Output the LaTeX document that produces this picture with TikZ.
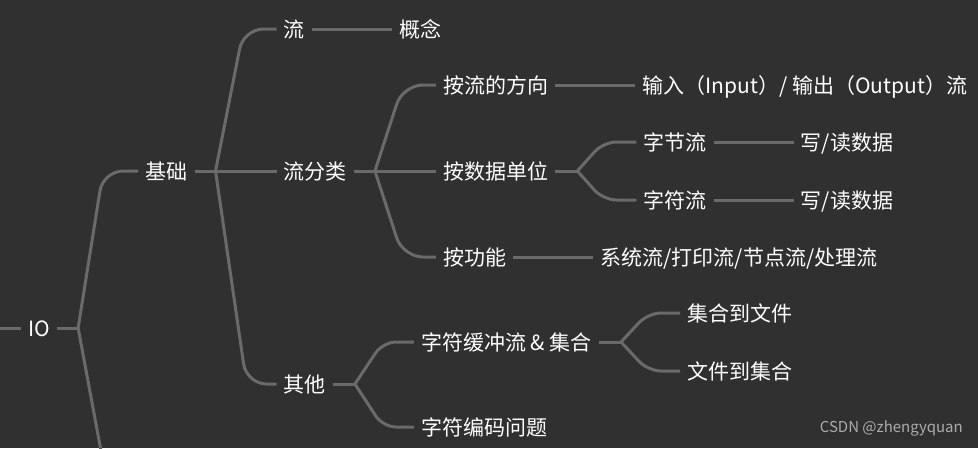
\documentclass[tikz,border=0pt]{standalone}
\usepackage{fontspec}
\setmainfont{Noto Sans CJK SC}
\usetikzlibrary{positioning, calc}
\definecolor{bgdark}{RGB}{48,48,48}
\definecolor{linkgray}{RGB}{106,106,106}
\definecolor{markgray}{RGB}{172,172,172}

\begin{document}
\begin{tikzpicture}[x=1pt, y=-1pt,
    topic/.style={anchor=west, text=white, font=\fontsize{21}{25}\selectfont,
                  inner xsep=7pt, inner ysep=0pt, text height=18.5pt, text depth=2.5pt},
    stub/.style={draw=linkgray, line width=3pt},
    link/.style={stub, rounded corners=20pt},
    twig/.style={stub, rounded corners=13pt},
    watermark/.style={anchor=east, text=markgray, font=\fontsize{15}{18}\selectfont, inner sep=0pt},
]
    \fill[bgdark] (0,0) rectangle (978,448);
    \clip (0,0) rectangle (978,448);

    % root
    \coordinate (in) at (0,328);
    \node[topic] (io) at (21,328) {IO};
    \coordinate (b0) at ($(io.east)+(21,0)$);
    \coordinate (off) at ($(b0)+(32,172)$);

    % basics
    \node[topic] (jc) at ($(b0)+(60,-157)$) {基础};
    \coordinate (b1) at ($(jc.east)+(21,0)$);
    \node[topic] (liu) at ($(b1)+(61,-142)$) {流};
    \node[topic, right=80pt of liu] (gn) {概念};
    \node[topic] (fl) at ($(b1)+(61,0)$) {流分类};
    \node[topic] (qt) at ($(b1)+(61,213)$) {其他};

    % stream classes
    \coordinate (b2) at ($(fl.east)+(21,0)$);
    \node[topic] (fx) at ($(b2)+(61,-86)$) {按流的方向};
    \node[topic, right=80pt of fx] (io2) {输入（Input）/ 输出（Output）流};
    \node[topic] (dw) at ($(b2)+(61,0)$) {按数据单位};
    \node[topic] (gnn) at ($(b2)+(61,86)$) {按功能};
    \node[topic, right=80pt of gnn] (xt) {系统流/打印流/节点流/处理流};

    \coordinate (b3) at ($(dw.east)+(22,0)$);
    \node[topic] (zj) at ($(b3)+(59,-29)$) {字节流};
    \node[topic, right=80pt of zj] (zjrw) {写/读数据};
    \node[topic] (zf) at ($(b3)+(59,29)$) {字符流};
    \node[topic, right=80pt of zf] (zfrw) {写/读数据};

    % others
    \coordinate (b4) at ($(qt.east)+(22,0)$);
    \node[topic] (hc) at ($(b4)+(59,-42)$) {字符缓冲流 \& 集合};
    \node[topic] (bm) at ($(b4)+(59,43)$) {字符编码问题};
    \coordinate (b5) at ($(hc.east)+(22,0)$);
    \node[topic] (jw) at ($(b5)+(59,-29)$) {集合到文件};
    \node[topic] (wj) at ($(b5)+(59,29)$) {文件到集合};

    \node[watermark] (wm) at (963,428) {CSDN @zhengyquan};

    % connectors
    \draw[stub] (in) -- (io);
    \draw[stub] (io) -- (b0);
    \draw[link] (b0) -- ($(b0|-jc.west)+(25,0)$) -- (jc.west);
    \draw[stub] (b0) -- (off);

    \draw[stub] (jc) -- (fl);
    \draw[link] (b1) -- ($(b1|-liu.west)+(28,0)$) -- (liu.west);
    \draw[link] (b1) -- ($(b1|-qt.west)+(31,0)$) -- (qt.west);
    \draw[stub] (liu) -- (gn);

    \draw[stub] (fl) -- (dw);
    \draw[link] (b2) -- ($(b2|-fx.west)+(28,0)$) -- (fx.west);
    \draw[link] (b2) -- ($(b2|-gnn.west)+(28,0)$) -- (gnn.west);
    \draw[stub] (fx) -- (io2);
    \draw[stub] (gnn) -- (xt);

    \draw[stub] (dw) -- (b3);
    \draw[twig] (b3) -- ($(b3|-zj.west)+(26,0)$) -- (zj.west);
    \draw[twig] (b3) -- ($(b3|-zf.west)+(26,0)$) -- (zf.west);
    \draw[stub] (zj) -- (zjrw);
    \draw[stub] (zf) -- (zfrw);

    \draw[stub] (qt) -- (b4);
    \draw[twig] (b4) -- ($(b4|-hc.west)+(28,0)$) -- (hc.west);
    \draw[twig] (b4) -- ($(b4|-bm.west)+(28,0)$) -- (bm.west);
    \draw[stub] (hc) -- (b5);
    \draw[twig] (b5) -- ($(b5|-jw.west)+(27,0)$) -- (jw.west);
    \draw[twig] (b5) -- ($(b5|-wj.west)+(27,0)$) -- (wj.west);
\end{tikzpicture}
\end{document}
